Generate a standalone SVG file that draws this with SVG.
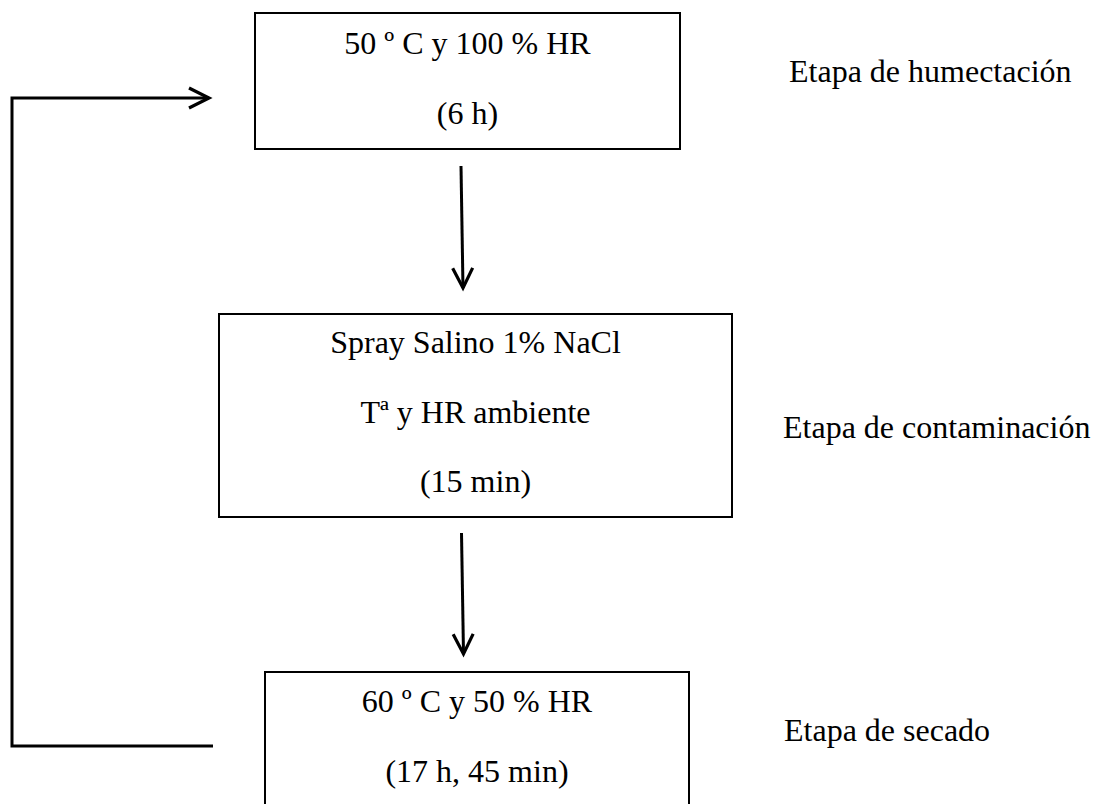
<svg xmlns="http://www.w3.org/2000/svg" width="1094" height="804" viewBox="0 0 1094 804">
  <style>
    .box { fill: #ffffff; stroke: #000000; stroke-width: 2; }
    .t { font-family: "Liberation Serif", "Times New Roman", serif; font-size: 32px; fill: #000000; }
    .c { text-anchor: middle; }
    .conn { fill: none; stroke: #000000; stroke-width: 3; }
  </style>
  <defs>
    <marker id="chev" viewBox="-24 -14 28 28" markerWidth="28" markerHeight="28" refX="0" refY="0" markerUnits="userSpaceOnUse" orient="auto">
      <path d="M -20 -10 L 0 0 L -20 10" fill="none" stroke="#000000" stroke-width="3.2" stroke-linejoin="miter" stroke-linecap="butt"/>
    </marker>
  </defs>
  <rect width="1094" height="804" fill="#ffffff"/>

  <g id="connectors">
    <path class="conn" d="M 213 746 L 12 746 L 12 98 L 209 98" marker-end="url(#chev)"/>
    <path class="conn" d="M 461 166 L 463 288" stroke-width="2.6" marker-end="url(#chev)"/>
    <path class="conn" d="M 461.5 533 L 463.5 654" stroke-width="2.6" marker-end="url(#chev)"/>
  </g>

  <g id="node-humectacion">
    <rect class="box" x="255" y="13" width="425" height="136"/>
    <text class="t c" x="467.5" y="53.5">50 º C y 100 % HR</text>
    <text class="t c" x="467.5" y="123.5">(6 h)</text>
  </g>

  <g id="node-contaminacion">
    <rect class="box" x="219" y="314" width="513" height="203"/>
    <text class="t c" x="475.5" y="353">Spray Salino 1% NaCl</text>
    <text class="t c" x="475.5" y="423">Tª y HR ambiente</text>
    <text class="t c" x="475.5" y="492">(15 min)</text>
  </g>

  <g id="node-secado">
    <rect class="box" x="265" y="672" width="424" height="150"/>
    <text class="t c" x="477" y="712">60 º C y 50 % HR</text>
    <text class="t c" x="477" y="782">(17 h, 45 min)</text>
  </g>

  <g id="labels">
    <text class="t" x="789" y="82">Etapa de humectación</text>
    <text class="t" x="783" y="438">Etapa de contaminación</text>
    <text class="t" x="784" y="741">Etapa de secado</text>
  </g>
</svg>
